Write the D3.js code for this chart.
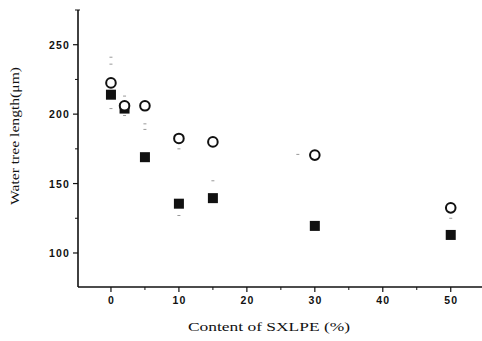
<!DOCTYPE html>
<html>
<head>
<meta charset="UTF-8">
<script src="https://d3js.org/d3.v7.min.js"></script>
<style>
  body { margin: 0; background: #fff; }
  .tick-label { font-family: "Liberation Sans", Arial, sans-serif; font-weight: bold; font-size: 10.5px; letter-spacing: 1.2px; fill: #111; }
  .axis-title { font-family: "Liberation Serif", "Times New Roman", serif; font-size: 13px; fill: #111; }
</style>
</head>
<body>
<div id="chart"></div>
<script>
// SXLPE content (%)
const contents = [0, 2, 5, 10, 15, 30, 50];
// open circles
const seriesOpen = [222.5, 206, 206, 182.5, 180, 170.5, 132.5];
// filled squares
const seriesFilled = [214, 204, 169, 135.5, 139.5, 119.5, 113];
// faint leftovers of error-bar caps: [content, value]
const errMarks = [[0, 241], [0, 236], [0, 204], [2, 213], [2, 199], [5, 193], [5, 189],
                  [10, 175], [10, 127], [15, 152], [27.5, 171], [50, 125]];
const xTicks = [0, 10, 20, 30, 40, 50];
const yTicks = [100, 150, 200, 250];

const W = 482, H = 341;
const margin = { left: 78, top: 10, right: 0, bottom: 54 };

const svg = d3.select('#chart').append('svg')
  .attr('width', W).attr('height', H);

const x = d3.scaleLinear().domain([-4.85, 54.6]).range([margin.left, W - margin.right]);
const y = d3.scaleLinear().domain([75.5, 275]).range([H - margin.bottom, margin.top]);

const ink = '#111';

// x axis
const gx = svg.append('g').attr('transform', `translate(0,${y(75.5)})`);
gx.append('line').attr('x1', x.range()[0]).attr('x2', x.range()[1])
  .attr('stroke', ink).attr('stroke-width', 1.6);
gx.selectAll('.major').data(xTicks).enter().append('line')
  .attr('x1', d => x(d)).attr('x2', d => x(d)).attr('y1', 0).attr('y2', 5)
  .attr('stroke', ink).attr('stroke-width', 1.2);
gx.selectAll('.minor').data(d3.range(-5, 56, 5).filter(v => v % 10 !== 0 && v > -4.85 && v < 54.6)).enter().append('line')
  .attr('x1', d => x(d)).attr('x2', d => x(d)).attr('y1', 0).attr('y2', 3)
  .attr('stroke', ink).attr('stroke-width', 1);
gx.selectAll('.lab').data(xTicks).enter().append('text')
  .attr('class', 'tick-label')
  .attr('x', d => x(d) + 0.6).attr('y', 17)
  .attr('text-anchor', 'middle')
  .text(d => d);

// y axis
const gy = svg.append('g').attr('transform', `translate(${x(-4.85)},0)`);
gy.append('line').attr('y1', y.range()[0]).attr('y2', y.range()[1])
  .attr('stroke', ink).attr('stroke-width', 1.6);
gy.append('line').attr('x1', -3).attr('x2', 2).attr('y1', y(275)).attr('y2', y(275))
  .attr('stroke', ink).attr('stroke-width', 1);
gy.selectAll('.major').data(yTicks).enter().append('line')
  .attr('x1', -5).attr('x2', 0).attr('y1', d => y(d)).attr('y2', d => y(d))
  .attr('stroke', ink).attr('stroke-width', 1.2);
gy.selectAll('.minor').data([125, 175, 225]).enter().append('line')
  .attr('x1', -3).attr('x2', 0).attr('y1', d => y(d)).attr('y2', d => y(d))
  .attr('stroke', ink).attr('stroke-width', 1);
gy.selectAll('.lab').data(yTicks).enter().append('text')
  .attr('class', 'tick-label')
  .attr('x', -8).attr('y', d => y(d) + 4)
  .attr('text-anchor', 'end')
  .text(d => d);

// axis titles
svg.append('text').attr('class', 'axis-title')
  .attr('x', 269).attr('y', 331)
  .attr('text-anchor', 'middle')
  .attr('textLength', 162).attr('lengthAdjust', 'spacingAndGlyphs')
  .text('Content of SXLPE (%)');
svg.append('text').attr('class', 'axis-title')
  .attr('transform', 'translate(19,136) rotate(-90)')
  .attr('text-anchor', 'middle')
  .attr('textLength', 138).attr('lengthAdjust', 'spacingAndGlyphs')
  .text('Water tree length(μm)');

// faint error-bar marks
svg.selectAll('.err').data(errMarks).enter().append('line')
  .attr('x1', d => x(d[0]) - 1.5).attr('x2', d => x(d[0]) + 1.5)
  .attr('y1', d => y(d[1])).attr('y2', d => y(d[1]))
  .attr('stroke', '#999').attr('stroke-width', 1);

// filled squares
svg.selectAll('.sq').data(contents).enter().append('rect')
  .attr('x', d => x(d) - 5).attr('y', (d, i) => y(seriesFilled[i]) - 5)
  .attr('width', 10).attr('height', 10)
  .attr('fill', ink);

// open circles
svg.selectAll('.circ').data(contents).enter().append('circle')
  .attr('cx', d => x(d)).attr('cy', (d, i) => y(seriesOpen[i]))
  .attr('r', 4.8)
  .attr('fill', '#fff').attr('stroke', ink).attr('stroke-width', 2);
</script>
</body>
</html>
